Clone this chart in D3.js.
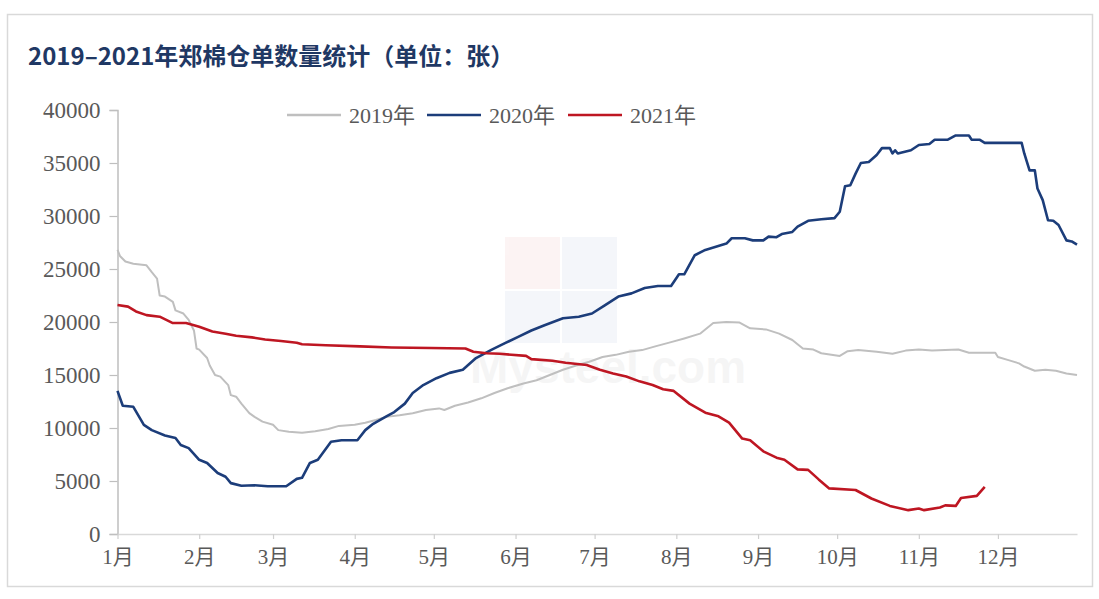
<!DOCTYPE html>
<html><head><meta charset="utf-8">
<script src="https://cdn.jsdelivr.net/npm/d3@7"></script>
<style>
html,body{margin:0;padding:0;background:#fff;}
svg{display:block;}
</style></head>
<body>
<svg id="chart" width="1099" height="599"></svg>
<script>
const titleText = "2019–2021年郑棉仓单数量统计（单位：张）";
const monthLabels = ["1月","2月","3月","4月","5月","6月","7月","8月","9月","10月","11月","12月"];
const yTickValues = [0,5000,10000,15000,20000,25000,30000,35000,40000];
const seriesNames = ["2019年","2020年","2021年"];

const dates2019 = ["01-01","01-02","01-04","01-07","01-12","01-14","01-16","01-17","01-19","01-22","01-23","01-26","01-28","01-30","01-31","02-01","02-04","02-05","02-07","02-09","02-12","02-13","02-15","02-17","02-20","02-22","02-25","03-01","03-03","03-07","03-12","03-17","03-22","03-26","04-01","04-05","04-09","04-13","04-18","04-23","04-28","05-03","05-05","05-09","05-14","05-19","05-24","05-29","06-04","06-09","06-14","06-19","06-24","06-29","07-04","07-09","07-14","07-19","07-24","07-30","08-04","08-10","08-15","08-20","08-25","08-29","09-04","09-09","09-14","09-18","09-22","09-25","10-02","10-05","10-09","10-16","10-22","10-27","11-01","11-06","11-11","11-16","11-20","11-30","12-01","12-05","12-09","12-11","12-15","12-19","12-23","12-27","12-31"];
const values2019 = [26800,26200,25700,25500,25350,24700,24100,22500,22400,21900,21100,20800,20200,19200,17500,17400,16600,15900,15000,14850,14050,13100,12950,12300,11400,11050,10600,10300,9800,9650,9550,9700,9900,10200,10300,10500,10750,11050,11200,11400,11700,11850,11700,12100,12400,12800,13300,13750,14200,14500,15000,15500,15900,16250,16700,16900,17200,17350,17700,18100,18450,18900,19900,20000,19950,19400,19300,18900,18300,17500,17400,17050,16800,17250,17350,17200,17000,17300,17400,17300,17350,17400,17100,17100,16700,16400,16100,15800,15400,15500,15400,15150,15000];

const dates2020 = ["01-01","01-03","01-07","01-11","01-14","01-19","01-23","01-25","01-28","02-01","02-04","02-08","02-11","02-13","02-17","02-22","02-27","03-06","03-10","03-12","03-15","03-18","03-23","03-27","04-02","04-05","04-08","04-13","04-16","04-20","04-23","04-27","05-02","05-07","05-12","05-17","05-23","05-28","06-02","06-07","06-12","06-19","06-25","06-30","07-05","07-10","07-15","07-20","07-25","07-30","08-02","08-04","08-08","08-12","08-16","08-20","08-22","08-27","08-30","09-03","09-05","09-08","09-10","09-14","09-16","09-20","09-25","09-30","10-02","10-04","10-06","10-08","10-10","10-13","10-16","10-18","10-21","10-22","10-23","10-24","10-29","11-01","11-05","11-07","11-12","11-15","11-20","11-21","11-24","11-26","12-10","12-11","12-12","12-13","12-15","12-16","12-18","12-20","12-22","12-24","12-27","12-29","12-31"];
const values2020 = [13500,12100,12000,10300,9800,9300,9050,8400,8100,7000,6700,5750,5400,4800,4550,4600,4500,4500,5200,5300,6700,7000,8700,8850,8850,9800,10400,11100,11500,12300,13300,14050,14700,15200,15500,16600,17400,18000,18600,19200,19700,20350,20500,20800,21600,22400,22700,23200,23400,23400,24500,24500,26300,26800,27100,27400,27900,27900,27700,27700,28050,28000,28300,28500,29000,29550,29700,29800,30400,32800,32900,34000,35000,35100,35750,36400,36400,35900,36200,35900,36200,36700,36800,37200,37200,37600,37600,37200,37200,36900,36900,35900,35100,34300,34300,32600,31500,29600,29550,29150,27700,27600,27300];

const dates2021 = ["01-01","01-05","01-08","01-12","01-17","01-22","01-27","02-01","02-06","02-11","02-15","02-21","02-26","03-04","03-10","03-12","03-21","04-03","04-15","04-30","05-13","05-16","05-21","05-26","06-05","06-07","06-15","06-20","06-28","07-03","07-08","07-13","07-18","07-23","07-27","07-31","08-06","08-12","08-17","08-21","08-26","08-29","09-03","09-08","09-11","09-16","09-20","09-24","09-28","10-08","10-14","10-21","10-28","11-01","11-03","11-09","11-11","11-15","11-17","11-23","11-26"];
const values2021 = [21600,21450,21000,20650,20500,19900,19900,19550,19100,18900,18700,18550,18350,18200,18050,17900,17800,17700,17600,17550,17500,17200,17050,17000,16800,16500,16350,16150,15950,15500,15150,14850,14400,14050,13650,13500,12300,11450,11100,10500,9000,8850,7800,7200,7000,6100,6050,5150,4300,4150,3350,2650,2250,2400,2250,2500,2700,2650,3400,3600,4450];

const colors = ["#bfbfbf","#1c3d7a","#be1622"];

const parse = d3.timeParse("%Y-%m-%d");
const toDate = s => parse("2021-" + s);
const series = [
  {name: seriesNames[0], color: colors[0], width: 2, pts: dates2019.map((d,i)=>({x: toDate(d), y: values2019[i]}))},
  {name: seriesNames[1], color: colors[1], width: 2.6, pts: dates2020.map((d,i)=>({x: toDate(d), y: values2020[i]}))},
  {name: seriesNames[2], color: colors[2], width: 2.6, pts: dates2021.map((d,i)=>({x: toDate(d), y: values2021[i]}))}
];

const svg = d3.select("#chart");

// frame
svg.append("rect").attr("x",7.5).attr("y",14.5).attr("width",1085).attr("height",572)
  .attr("fill","#fff").attr("stroke","#d9d9d9").attr("stroke-width",1.5);

// title
svg.append("text").attr("x",28).attr("y",65)
  .attr("font-family","'Noto Sans CJK SC','Noto Sans',sans-serif")
  .attr("font-weight","bold").attr("font-size",24).attr("fill","#1f3864")
  .text(titleText);

const x = d3.scaleTime().domain([toDate("01-01"), toDate("12-31")]).range([117.5, 1077]);
const y = d3.scaleLinear().domain([0, 40000]).range([534, 110]);

// watermark
const wm = svg.append("g").attr("opacity",0.045);
wm.append("rect").attr("x",505).attr("y",237).attr("width",55).attr("height",52).attr("fill","#c00000");
wm.append("rect").attr("x",562).attr("y",237).attr("width",55).attr("height",52).attr("fill","#1f4e99");
wm.append("rect").attr("x",505).attr("y",291).attr("width",55).attr("height",52).attr("fill","#1f4e99");
wm.append("rect").attr("x",562).attr("y",291).attr("width",55).attr("height",52).attr("fill","#1f4e99");
svg.append("text").attr("x",470).attr("y",383).attr("font-family","Arial, 'Liberation Sans', sans-serif")
  .attr("font-weight","bold").attr("font-size",46).attr("fill","#000").attr("opacity",0.035)
  .text("Mysteel.com");

const fontSerif = "'Liberation Serif','Noto Sans CJK SC',serif";

// y axis
const yAxis = svg.append("g").attr("transform","translate(117.5,0)")
  .call(d3.axisLeft(y).tickValues(yTickValues).tickSize(8).tickPadding(9).tickFormat(d3.format("d")));
yAxis.select(".domain").attr("stroke","#bfbfbf").attr("stroke-width",1.5);
yAxis.selectAll(".tick line").attr("stroke","#bfbfbf").attr("stroke-width",1.2);
yAxis.selectAll(".tick text").attr("font-family",fontSerif).attr("font-size",23).attr("fill","#595959");

// x axis
const monthStarts = monthLabels.map((m,i)=>new Date(2021,i,1));
const xAxis = svg.append("g").attr("transform","translate(0,534)")
  .call(d3.axisBottom(x).tickValues(monthStarts).tickSize(5).tickSizeOuter(0).tickPadding(10)
    .tickFormat((d,i)=>monthLabels[i]));
xAxis.select(".domain").attr("stroke","#d9d9d9").attr("stroke-width",1.5);
xAxis.selectAll(".tick line").attr("stroke","#cfcfcf").attr("stroke-width",1.2);
xAxis.selectAll(".tick text").attr("font-family",fontSerif).attr("font-size",21).attr("fill","#595959");

// lines
const line = d3.line().x(d=>x(d.x)).y(d=>y(d.y));
svg.append("g").selectAll("path").data(series).join("path")
  .attr("d", d=>line(d.pts)).attr("fill","none")
  .attr("stroke", d=>d.color).attr("stroke-width", d=>d.width)
  .attr("stroke-linejoin","round");

// legend
const legendX = [287, 427, 568];
const lg = svg.append("g").selectAll("g").data(series).join("g")
  .attr("transform",(d,i)=>`translate(${legendX[i]},115)`);
lg.append("line").attr("x1",0).attr("x2",54).attr("y1",0).attr("y2",0)
  .attr("stroke",d=>d.color).attr("stroke-width",2.5);
lg.append("text").attr("x",62).attr("y",0).attr("dy","0.35em")
  .attr("font-family",fontSerif).attr("font-size",22).attr("fill","#595959")
  .text(d=>d.name);
</script>
</body></html>
